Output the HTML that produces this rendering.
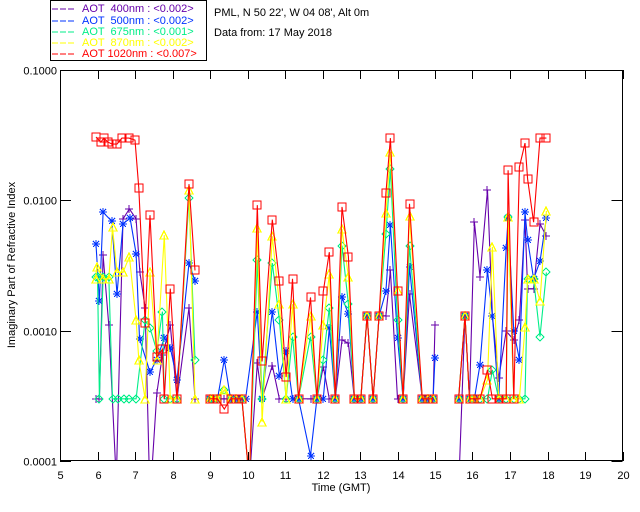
<!DOCTYPE html>
<html><head><meta charset="utf-8"><style>
body{margin:0;background:#fff}
svg{display:block;font-family:"Liberation Sans","DejaVu Sans",sans-serif}
</style></head><body>
<svg id="chart" width="640" height="512" viewBox="0 0 640 512" xmlns="http://www.w3.org/2000/svg" shape-rendering="crispEdges">
<rect x="0" y="0" width="640" height="512" fill="#fff"/>
<g id="legend">
<rect x="50.5" y="0.5" width="156" height="60" fill="#fff" stroke="#000"/>
<g font-size="11">
<g><line x1="52" y1="9" x2="74" y2="9" stroke="#6600aa" stroke-dasharray="6,2"/><text x="82" y="12" fill="#6600aa" xml:space="preserve">AOT  400nm : &lt;0.002&gt;</text></g>
<g><line x1="52" y1="21" x2="74" y2="21" stroke="#0033ff" stroke-dasharray="6,2"/><text x="82" y="24" fill="#0033ff" xml:space="preserve">AOT  500nm : &lt;0.002&gt;</text></g>
<g><line x1="52" y1="32" x2="74" y2="32" stroke="#00ee88" stroke-dasharray="6,2"/><text x="82" y="35" fill="#00ee88" xml:space="preserve">AOT  675nm : &lt;0.001&gt;</text></g>
<g><line x1="52" y1="43" x2="74" y2="43" stroke="#ffff00" stroke-dasharray="6,2"/><text x="82" y="46" fill="#ffff00" xml:space="preserve">AOT  870nm : &lt;0.002&gt;</text></g>
<g><line x1="52" y1="54" x2="74" y2="54" stroke="#ff0000" stroke-dasharray="6,2"/><text x="82" y="57" fill="#ff0000" xml:space="preserve">AOT 1020nm : &lt;0.007&gt;</text></g>
</g></g>
<text x="214" y="16" font-size="11">PML, N 50 22', W 04 08', Alt 0m</text>
<text x="214" y="36" font-size="11">Data from: 17 May 2018</text>
<text transform="translate(15,265) rotate(-90)" text-anchor="middle" font-size="11">Imaginary Part of Refractive Index</text>
<text x="341" y="491" text-anchor="middle" font-size="11">Time (GMT)</text>
<defs><clipPath id="pc"><rect x="60" y="70" width="563" height="391"/></clipPath></defs>
<g id="axes"></g>
<g id="series" clip-path="url(#pc)"></g>
<rect x="60.5" y="70.5" width="562" height="390" fill="none" stroke="#000"/>
</svg>
<script>
const xTicks=[5,6,7,8,9,10,11,12,13,14,15,16,17,18,19,20];
const yTicks=[0.0001,0.001,0.01,0.1];
const yTickLabels=["0.0001","0.0010","0.0100","0.1000"];
const seriesNames=["400nm","500nm","675nm","870nm","1020nm"];
const F=0.0003;
const t400=[5.95,6.05,6.15,6.3,6.5,6.68,6.85,7.03,7.13,7.27,7.4,7.58,7.73,7.94,8.12,8.44,8.6,null,9.0,9.08,9.2,9.38,9.55,9.68,9.85,10.05,10.26,10.39,10.66,10.85,11.03,11.2,11.36,11.68,11.85,12.02,12.18,12.34,12.52,12.69,12.85,13.02,13.19,13.35,13.51,13.69,13.81,14.0,14.15,14.32,14.66,14.82,14.95,15.0,null,15.63,15.8,15.92,16.05,16.2,16.4,16.53,16.7,16.9,17.1,17.25,17.4,17.47,17.63,17.8,17.97];
const v400=[F,F,0.0038,0.0011,0.00007,0.0072,0.0086,0.0072,0.0028,0.0015,0.00005,0.00033,0.00065,0.0011,F,0.0015,F,null,F,F,F,F,F,F,F,0.00007,0.00056,F,0.00054,F,F,F,F,F,F,0.00053,F,F,0.00085,0.0008,F,F,0.0013,F,0.0013,0.0013,0.0029,F,F,0.0019,F,F,F,0.0011,null,0.00006,0.0013,F,0.0068,0.0026,0.012,0.0013,0.00043,0.00099,0.00085,0.0012,0.0071,0.0021,0.0021,0.0066,0.0053];
const t500=[5.96,6.05,6.15,6.38,6.52,6.68,6.87,7.03,7.12,7.4,7.58,7.78,7.94,8.12,8.44,8.6,null,9.0,9.08,9.2,9.38,9.55,9.68,9.85,9.95,10.26,10.39,10.66,10.85,11.03,11.2,11.36,11.68,11.85,12.02,12.18,12.34,12.52,12.69,12.85,13.02,13.19,13.35,13.51,13.69,13.81,14.0,14.15,14.32,14.66,14.82,14.95,15.0,null,15.63,15.8,15.92,16.05,16.2,16.4,16.53,16.7,16.9,16.95,17.1,17.25,17.4,17.47,17.63,17.8,17.97];
const v500=[0.0046,0.0017,0.0081,0.0069,0.0019,0.0066,0.0073,0.0039,0.00087,0.00048,0.0006,0.00088,0.00074,0.00042,0.0033,0.0024,null,F,F,F,0.0006,F,F,F,F,0.0014,F,0.0014,0.00045,0.0007,F,F,0.00011,F,F,0.00105,F,0.0018,0.00135,F,F,0.0013,F,0.0013,0.002,0.0065,0.00088,F,0.0031,F,F,F,0.00062,null,F,0.0013,F,F,0.00055,0.0029,0.0013,F,0.0043,0.0073,0.00099,0.0006,0.0081,0.005,0.0025,0.0034,0.0073];
const t675=[5.95,6.0,6.05,6.15,6.3,6.4,6.55,6.7,6.85,7.03,7.27,7.4,7.58,7.73,7.78,7.94,8.12,8.44,8.6,null,9.0,9.08,9.2,9.38,9.55,9.68,9.85,10.05,10.26,10.39,10.66,10.85,11.03,11.2,11.36,11.68,11.85,12.02,12.18,12.34,12.52,12.69,12.85,13.02,13.19,13.35,13.51,13.69,13.81,14.0,14.15,14.32,14.66,14.82,14.95,null,15.63,15.8,15.92,16.05,16.2,16.4,16.53,16.7,16.9,16.95,17.1,17.25,17.4,17.47,17.63,17.8,17.97];
const v675=[0.0026,0.0026,F,0.0026,0.0026,F,F,F,F,F,0.0012,0.00105,0.0007,0.0014,F,F,F,0.0105,0.0006,null,F,F,F,0.00035,F,F,F,0.00007,0.0035,F,0.0033,0.0012,F,0.0009,F,0.0009,F,0.0006,0.0015,F,0.0045,0.0016,F,F,0.0013,F,0.0013,0.0055,0.0175,0.0012,F,0.0045,F,F,F,null,F,0.0013,F,F,F,F,0.0005,F,F,0.0075,F,F,F,0.0025,0.0025,0.0009,0.0028];
const t870=[5.95,5.98,6.15,6.3,6.4,6.52,6.68,6.85,7.03,7.1,7.27,7.4,7.58,7.78,7.94,8.12,8.44,8.6,null,9.0,9.08,9.2,9.38,9.55,9.68,9.85,10.05,10.26,10.39,10.66,10.85,11.03,11.2,11.36,11.68,11.85,12.02,12.18,12.34,12.52,12.69,12.85,13.02,13.19,13.35,13.51,13.69,13.81,14.0,14.15,14.32,14.66,14.82,14.95,null,15.63,15.8,15.92,16.05,16.2,16.4,16.53,16.7,16.9,16.95,17.1,17.25,17.4,17.47,17.63,17.8,17.97];
const v870=[0.0025,0.0031,0.0025,0.0025,0.0062,0.0028,0.0028,0.0037,0.0012,0.0006,F,0.0028,0.0006,0.0054,F,F,0.012,F,null,F,F,F,0.00035,F,F,F,0.00007,0.0061,0.0002,0.0053,0.0016,F,0.0016,F,0.0013,F,0.0011,0.0027,F,0.006,0.0026,F,F,0.0013,F,0.0013,0.008,0.0235,0.002,F,0.0076,F,F,F,null,F,0.0013,F,F,F,0.00042,0.0044,F,F,0.0075,F,F,0.00106,0.0025,0.0025,0.0017,0.0083];
const t1020=[5.96,6.09,6.17,6.28,6.39,6.52,6.65,6.84,7.0,7.1,7.27,7.4,7.58,7.73,7.78,7.94,8.12,8.44,8.6,null,9.0,9.08,9.2,9.38,9.55,9.68,9.85,10.05,10.26,10.39,10.66,10.85,11.03,11.2,11.36,11.68,11.85,12.02,12.18,12.34,12.52,12.69,12.85,13.02,13.19,13.35,13.51,13.69,13.81,14.0,14.15,14.32,14.66,14.82,14.95,null,15.63,15.8,15.92,16.05,16.2,16.4,16.53,16.7,16.9,16.95,17.1,17.25,17.4,17.47,17.63,17.8,17.97];
const v1020=[0.0306,0.028,0.030,0.028,0.027,0.027,0.030,0.030,0.029,0.0124,0.00115,0.0077,0.00063,0.00072,F,0.0021,F,0.0133,0.0029,null,F,F,F,0.00025,F,F,F,0.00007,0.0092,0.00058,0.0071,0.0024,0.00044,0.0025,F,0.0018,F,0.002,0.004,F,0.0089,0.0037,F,F,0.0013,F,0.0013,0.0113,0.030,0.002,F,0.0094,F,F,F,null,F,0.0013,F,F,F,0.0005,F,F,F,0.017,F,0.018,0.0275,0.0146,0.0068,0.030,0.030];

const X0=60,X1=622.5,Y0=461,Y1=70;
function xs(t){return X0+(t-5)/(20-5)*(X1-X0);}
function ys(v){return Y0-(Math.log10(v)+4)/3*(Y0-Y1);}
const NS="http://www.w3.org/2000/svg";
function mk(tag,attrs,parent){const e=document.createElementNS(NS,tag);for(const k in attrs)e.setAttribute(k,attrs[k]);parent.appendChild(e);return e;}
const axes=document.getElementById('axes');
xTicks.forEach(function(t){
 const x=Math.round(xs(t))+0.5;
 const g=mk('g',{},axes);
 
 
 mk('line',{x1:x,y1:Y0,x2:x,y2:Y0-9,stroke:'#000'},g);
 mk('line',{x1:x,y1:Y1,x2:x,y2:Y1+9,stroke:'#000'},g);
 const tx=mk('text',{x:x,y:479,'text-anchor':'middle','font-size':'11'},g);
 tx.textContent=t;
});
yTicks.forEach(function(v,i){
 const y=Math.round(ys(v))+0.5;
 const g=mk('g',{},axes);
 
 
 mk('line',{x1:X0,y1:y,x2:X0+11,y2:y,stroke:'#000'},g);
 mk('line',{x1:X1,y1:y,x2:X1-11,y2:y,stroke:'#000'},g);
 const tx=mk('text',{x:57,y:y+4,'text-anchor':'end','font-size':'11'},g);
 tx.textContent=yTickLabels[i];
});
const sg=document.getElementById('series');
function marker(kind,x,y,col,g){
 const s=4;
 if(kind==='plus'){mk('path',{d:`M${x-s} ${y}H${x+s}M${x} ${y-s}V${y+s}`,stroke:col,fill:'none','stroke-width':1.2},g);}
 else if(kind==='star'){mk('path',{d:`M${x-s} ${y}H${x+s}M${x} ${y-s}V${y+s}M${x-3} ${y-3}L${x+3} ${y+3}M${x-3} ${y+3}L${x+3} ${y-3}`,stroke:col,fill:'none','stroke-width':1.2},g);}
 else if(kind==='diamond'){mk('path',{d:`M${x} ${y-s}L${x+s} ${y}L${x} ${y+s}L${x-s} ${y}Z`,stroke:col,fill:'none','stroke-width':1},g);}
 else if(kind==='tri'){mk('path',{d:`M${x} ${y-s}L${x+s} ${y+s}L${x-s} ${y+s}Z`,stroke:col,fill:'none','stroke-width':1.2},g);}
 else {mk('rect',{x:x-s,y:y-s,width:2*s,height:2*s,stroke:col,fill:'none','stroke-width':1.2},g);}
}
function draw(name,ts,vs,col,kind){
 const g=mk('g',{},sg);
 
 
 let d='',pen=false;
 for(let i=0;i<ts.length;i++){
  if(ts[i]===null||vs[i]===null){pen=false;continue;}
  const x=xs(ts[i]),y=ys(vs[i]);
  d+=(pen?'L':'M')+x.toFixed(1)+' '+y.toFixed(1);pen=true;
 }
 const p=mk('path',{d:d,stroke:col,fill:'none','stroke-width':1.1,'shape-rendering':'auto'},g);
 
 
 for(let i=0;i<ts.length;i++){
  if(ts[i]===null||vs[i]===null)continue;
  marker(kind,Math.round(xs(ts[i])),Math.round(ys(vs[i])),col,g);
 }
}
draw(seriesNames[0],t400,v400,'#6600aa','plus');
draw(seriesNames[1],t500,v500,'#0033ff','star');
draw(seriesNames[2],t675,v675,'#00ee88','diamond');
draw(seriesNames[3],t870,v870,'#ffff00','tri');
draw(seriesNames[4],t1020,v1020,'#ff0000','square');
</script>
</body></html>
